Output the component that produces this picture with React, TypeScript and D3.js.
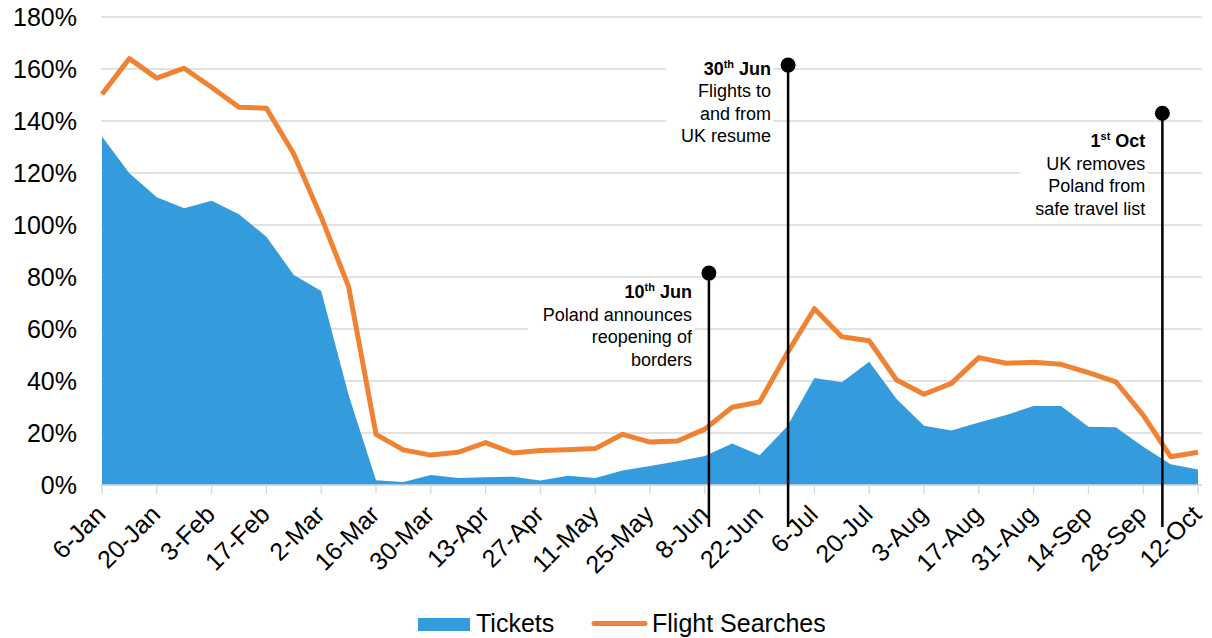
import React, { useEffect, useRef } from 'react';
import * as d3 from 'd3';

// weekly points, 6-Jan to 12-Oct
const weeks = [
  '6-Jan', '13-Jan', '20-Jan', '27-Jan', '3-Feb', '10-Feb', '17-Feb', '24-Feb',
  '2-Mar', '9-Mar', '16-Mar', '23-Mar', '30-Mar', '6-Apr', '13-Apr', '20-Apr',
  '27-Apr', '4-May', '11-May', '18-May', '25-May', '1-Jun', '8-Jun', '15-Jun',
  '22-Jun', '29-Jun', '6-Jul', '13-Jul', '20-Jul', '27-Jul', '3-Aug', '10-Aug',
  '17-Aug', '24-Aug', '31-Aug', '7-Sep', '14-Sep', '21-Sep', '28-Sep', '5-Oct', '12-Oct'
];

const tickets = [
  134, 119.9, 110.7, 106.4, 109.3, 104.1, 95.5, 80.8, 74.6, 34.6, 1.8, 1.2, 3.8, 2.7,
  3, 3.2, 1.7, 3.6, 2.7, 5.6, 7.3, 9.1, 11.2, 16, 11.4, 22.4, 41.2, 39.5, 47.4, 33.1,
  22.8, 21, 24, 26.9, 30.4, 30.4, 22.4, 22.2, 14.7, 8, 6
];

const searches = [
  150.3, 164, 156.5, 160.3, 153, 145.3, 144.9, 127.3, 103, 76.3, 19.5, 13.5, 11.5, 12.6,
  16.3, 12.3, 13.3, 13.6, 14, 19.5, 16.5, 16.9, 21.5, 29.9, 31.9, 50.6, 67.8, 57, 55.5,
  40.4, 34.9, 39.1, 49, 46.8, 47.2, 46.4, 43.2, 39.7, 26.9, 10.9, 12.6
];

const yTicks = [0, 20, 40, 60, 80, 100, 120, 140, 160, 180];

// event markers: week position, dot value, label baseline value
const events = [
  { day: '10', sup: 'th', month: 'Jun', lines: ['Poland announces', 'reopening of', 'borders'], week: 22.15, dot: 81.5, label: 71.9 },
  { day: '30', sup: 'th', month: 'Jun', lines: ['Flights to', 'and from', 'UK resume'], week: 25.04, dot: 161.5, label: 157.7 },
  { day: '1', sup: 'st', month: 'Oct', lines: ['UK removes', 'Poland from', 'safe travel list'], week: 38.7, dot: 143, label: 129.9 }
];

const BLUE = '#349CDC';
const ORANGE = '#F08234';
const FONT = "'Liberation Sans', Arial, sans-serif";

const App: React.FC = () => {
  const svgRef = useRef<SVGSVGElement>(null);
  const width = 1212;
  const height = 638;

  useEffect(() => {
    document.body.style.margin = '0';
    if (!svgRef.current) return;

    const svg = d3.select(svgRef.current);
    svg.selectAll('*').remove();

    const x = d3.scaleLinear().domain([0, weeks.length - 1]).range([102, 1198]);
    const y = d3.scaleLinear().domain([0, 180]).range([485, 17]);

    // Gridlines
    svg.append('g')
      .selectAll('line')
      .data(yTicks)
      .enter()
      .append('line')
      .attr('x1', 101)
      .attr('x2', 1202)
      .attr('y1', d => y(d))
      .attr('y2', d => y(d))
      .attr('stroke', '#d9d9d9')
      .attr('stroke-width', 1.3);

    // Y labels
    svg.append('g')
      .selectAll('text')
      .data(yTicks)
      .enter()
      .append('text')
      .attr('x', 77)
      .attr('y', d => y(d))
      .attr('dy', '0.35em')
      .attr('text-anchor', 'end')
      .style('font-family', FONT)
      .style('font-size', '25px')
      .attr('fill', '#000')
      .text(d => `${d}%`);

    // Tickets area
    const area = d3.area<number>()
      .x((_, i) => x(i))
      .y0(y(0))
      .y1(d => y(d));

    svg.append('path')
      .datum(tickets)
      .attr('d', area)
      .attr('fill', BLUE);

    // Searches line
    const line = d3.line<number>()
      .x((_, i) => x(i))
      .y(d => y(d));

    svg.append('path')
      .datum(searches)
      .attr('d', line)
      .attr('fill', 'none')
      .attr('stroke', ORANGE)
      .attr('stroke-width', 5)
      .attr('stroke-linejoin', 'round');

    // X axis
    const tickIdx = weeks.map((_, i) => i).filter(i => i % 2 === 0);
    svg.append('line')
      .attr('x1', 101)
      .attr('x2', 1202)
      .attr('y1', y(0))
      .attr('y2', y(0))
      .attr('stroke', '#d9d9d9')
      .attr('stroke-width', 1.3);

    svg.append('g')
      .selectAll('line')
      .data(tickIdx)
      .enter()
      .append('line')
      .attr('x1', d => x(d))
      .attr('x2', d => x(d))
      .attr('y1', y(0))
      .attr('y2', y(0) + 9)
      .attr('stroke', '#d9d9d9')
      .attr('stroke-width', 1.3);

    svg.append('g')
      .selectAll('text')
      .data(tickIdx)
      .enter()
      .append('text')
      .attr('transform', d => `translate(${x(d) + 5},${y(0) + 31}) rotate(-45)`)
      .attr('text-anchor', 'end')
      .style('font-family', FONT)
      .style('font-size', '25px')
      .attr('fill', '#000')
      .text(d => weeks[d]);

    // Event markers
    events.forEach(ev => {
      const ex = x(ev.week);
      const g = svg.append('g');

      const txt = g.append('text')
        .attr('text-anchor', 'end')
        .style('font-family', FONT)
        .style('font-size', '18px')
        .attr('fill', '#000');

      const tx = ex - 17;
      const ty = y(ev.label);

      const title = txt.append('tspan')
        .attr('x', tx)
        .attr('y', ty)
        .style('font-weight', 'bold');
      title.append('tspan').text(ev.day);
      title.append('tspan')
        .attr('dy', -7)
        .style('font-size', '11px')
        .text(ev.sup);
      title.append('tspan')
        .attr('dy', 7)
        .text(` ${ev.month}`);

      ev.lines.forEach((l, i) => {
        txt.append('tspan')
          .attr('x', tx)
          .attr('y', ty + 22.5 * (i + 1))
          .text(l);
      });

      // white box behind the label hides the gridlines
      const bb = (txt.node() as SVGTextElement).getBBox();
      g.insert('rect', 'text')
        .attr('x', bb.x - 15)
        .attr('y', bb.y)
        .attr('width', bb.width + 17)
        .attr('height', bb.height + 4)
        .attr('fill', '#fff');

      svg.append('line')
        .attr('x1', ex)
        .attr('x2', ex)
        .attr('y1', y(ev.dot))
        .attr('y2', 527)
        .attr('stroke', '#000')
        .attr('stroke-width', 2.5);

      svg.append('circle')
        .attr('cx', ex)
        .attr('cy', y(ev.dot))
        .attr('r', 7.5)
        .attr('fill', '#000');
    });

    // Legend
    const legend = svg.append('g');
    legend.append('rect')
      .attr('x', 418)
      .attr('y', 618)
      .attr('width', 52)
      .attr('height', 13)
      .attr('fill', BLUE);
    legend.append('text')
      .attr('x', 476)
      .attr('y', 632)
      .style('font-family', FONT)
      .style('font-size', '25px')
      .text('Tickets');
    legend.append('line')
      .attr('x1', 594)
      .attr('x2', 645)
      .attr('y1', 623.5)
      .attr('y2', 623.5)
      .attr('stroke', ORANGE)
      .attr('stroke-width', 5)
      .attr('stroke-linecap', 'round');
    legend.append('text')
      .attr('x', 652)
      .attr('y', 632)
      .style('font-family', FONT)
      .style('font-size', '25px')
      .text('Flight Searches');
  }, []);

  return (
    <svg
      ref={svgRef}
      width={width}
      height={height}
      style={{ display: 'block', background: '#fff' }}
    />
  );
};

export default App;
